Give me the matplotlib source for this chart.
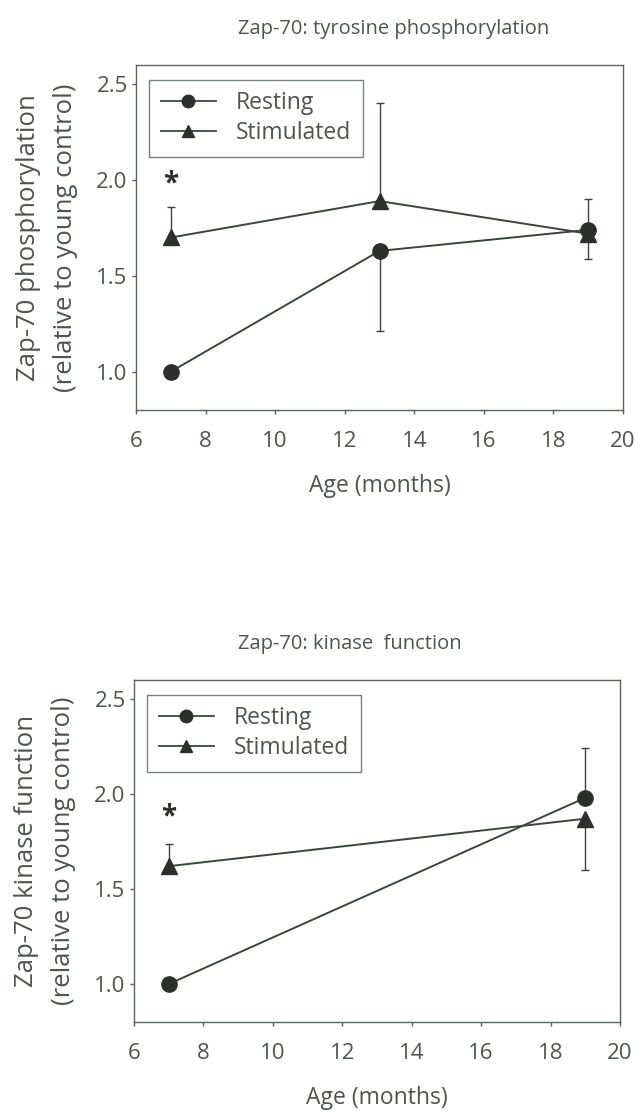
import matplotlib
matplotlib.use("Agg")
import matplotlib.pyplot as plt
from matplotlib.lines import Line2D

plt.rcParams['font.family'] = ['Open Sans', 'DejaVu Sans']

# ---- data ----
age_top = [7, 13, 19]
rest_top = [1.00, 1.63, 1.74]
stim_top = [1.70, 1.89, 1.72]
rest_top_err_lo = [0.0, 0.42, 0.0]
rest_top_err_hi = [0.0, 0.0, 0.16]
stim_top_err_lo = [0.0, 0.0, 0.13]
stim_top_err_hi = [0.16, 0.51, 0.0]

age_bot = [7, 19]
rest_bot = [1.00, 1.98]
stim_bot = [1.62, 1.87]
rest_bot_err_lo = [0.0, 0.0]
rest_bot_err_hi = [0.0, 0.26]
stim_bot_err_lo = [0.0, 0.27]
stim_bot_err_hi = [0.115, 0.0]

star_top = (7, 1.98)
star_bot = (7, 1.88)

x_ticks = [6, 8, 10, 12, 14, 16, 18, 20]
y_ticks = [1.0, 1.5, 2.0, 2.5]

titles = ["Zap-70: tyrosine phosphorylation", "Zap-70: kinase  function"]
title_x = [0.528, 0.445]
ylabels = ["Zap-70 phosphorylation\n(relative to young control)",
           "Zap-70 kinase function\n(relative to young control)"]
xlabel = "Age (months)"

line_c = "#3b463b"
mark_c = "#2b302b"
text_c = "#4c564c"
spine_c = "#59655a"

fig = plt.figure(figsize=(6.36, 11.12), dpi=100)
ax1 = fig.add_axes([136 / 636, 1 - 410 / 1112, 487 / 636, 345 / 1112])
ax2 = fig.add_axes([134 / 636, 1 - 1022 / 1112, 486 / 636, 342 / 1112])


def draw(ax, ages, rest, stim, rlo, rhi, slo, shi, star, title, tx, ylabel):
    ax.errorbar(ages, rest, yerr=[rlo, rhi], fmt='none', ecolor=line_c,
                elinewidth=1.0, capsize=3, capthick=1.0, zorder=2)
    ax.errorbar(ages, stim, yerr=[slo, shi], fmt='none', ecolor=line_c,
                elinewidth=1.0, capsize=3, capthick=1.0, zorder=2)
    ax.plot(ages, rest, color=line_c, lw=1.4, marker='o', ms=11,
            mfc=mark_c, mec=mark_c, zorder=4, label="Resting")
    ax.plot(ages, stim, color=line_c, lw=1.4, marker='^', ms=11,
            mfc=mark_c, mec=mark_c, zorder=3, label="Stimulated")
    ax.text(star[0], star[1], "*", ha='center', va='center', fontsize=20,
            color=mark_c, fontweight='bold')
    ax.set_xlim(6, 20)
    ax.set_ylim(0.8, 2.6)
    ax.set_xticks(x_ticks)
    ax.set_xticklabels([str(v) for v in x_ticks])
    ax.set_yticks(y_ticks)
    ax.set_yticklabels([f"{v:.1f}" for v in y_ticks])
    ax.tick_params(direction='out', length=3, width=1, colors=spine_c,
                   labelcolor=text_c, labelsize=16)
    ax.tick_params(axis='x', pad=12)
    ax.tick_params(axis='y', pad=3)
    for s in ax.spines.values():
        s.set_color(spine_c)
        s.set_linewidth(1.0)
    ax.set_title(title, fontsize=14.5, color=text_c, pad=22, x=tx)
    ax.set_xlabel(xlabel, fontsize=16.5, color=text_c, labelpad=16)
    ax.set_ylabel(ylabel, fontsize=18.5, color=text_c, labelpad=13,
                  linespacing=1.65)
    handles = [
        Line2D([0], [0], color=line_c, lw=1.3, marker='o', ms=9,
               mfc=mark_c, mec=mark_c),
        Line2D([0], [0], color=line_c, lw=1.3, marker='^', ms=9,
               mfc=mark_c, mec=mark_c),
    ]
    leg = ax.legend(handles, ["Resting", "Stimulated"], loc='upper left',
                    bbox_to_anchor=(0.027, 0.9565), borderaxespad=0,
                    fontsize=16.5, frameon=True, fancybox=False,
                    edgecolor=spine_c, handlelength=2.4, labelspacing=0.25,
                    borderpad=0.5, handletextpad=0.9)
    leg.get_frame().set_linewidth(1.0)
    for t in leg.get_texts():
        t.set_color(text_c)


draw(ax1, age_top, rest_top, stim_top, rest_top_err_lo, rest_top_err_hi,
     stim_top_err_lo, stim_top_err_hi, star_top, titles[0], title_x[0],
     ylabels[0])
draw(ax2, age_bot, rest_bot, stim_bot, rest_bot_err_lo, rest_bot_err_hi,
     stim_bot_err_lo, stim_bot_err_hi, star_bot, titles[1], title_x[1],
     ylabels[1])

fig.savefig("out.png", dpi=100, facecolor='white')
